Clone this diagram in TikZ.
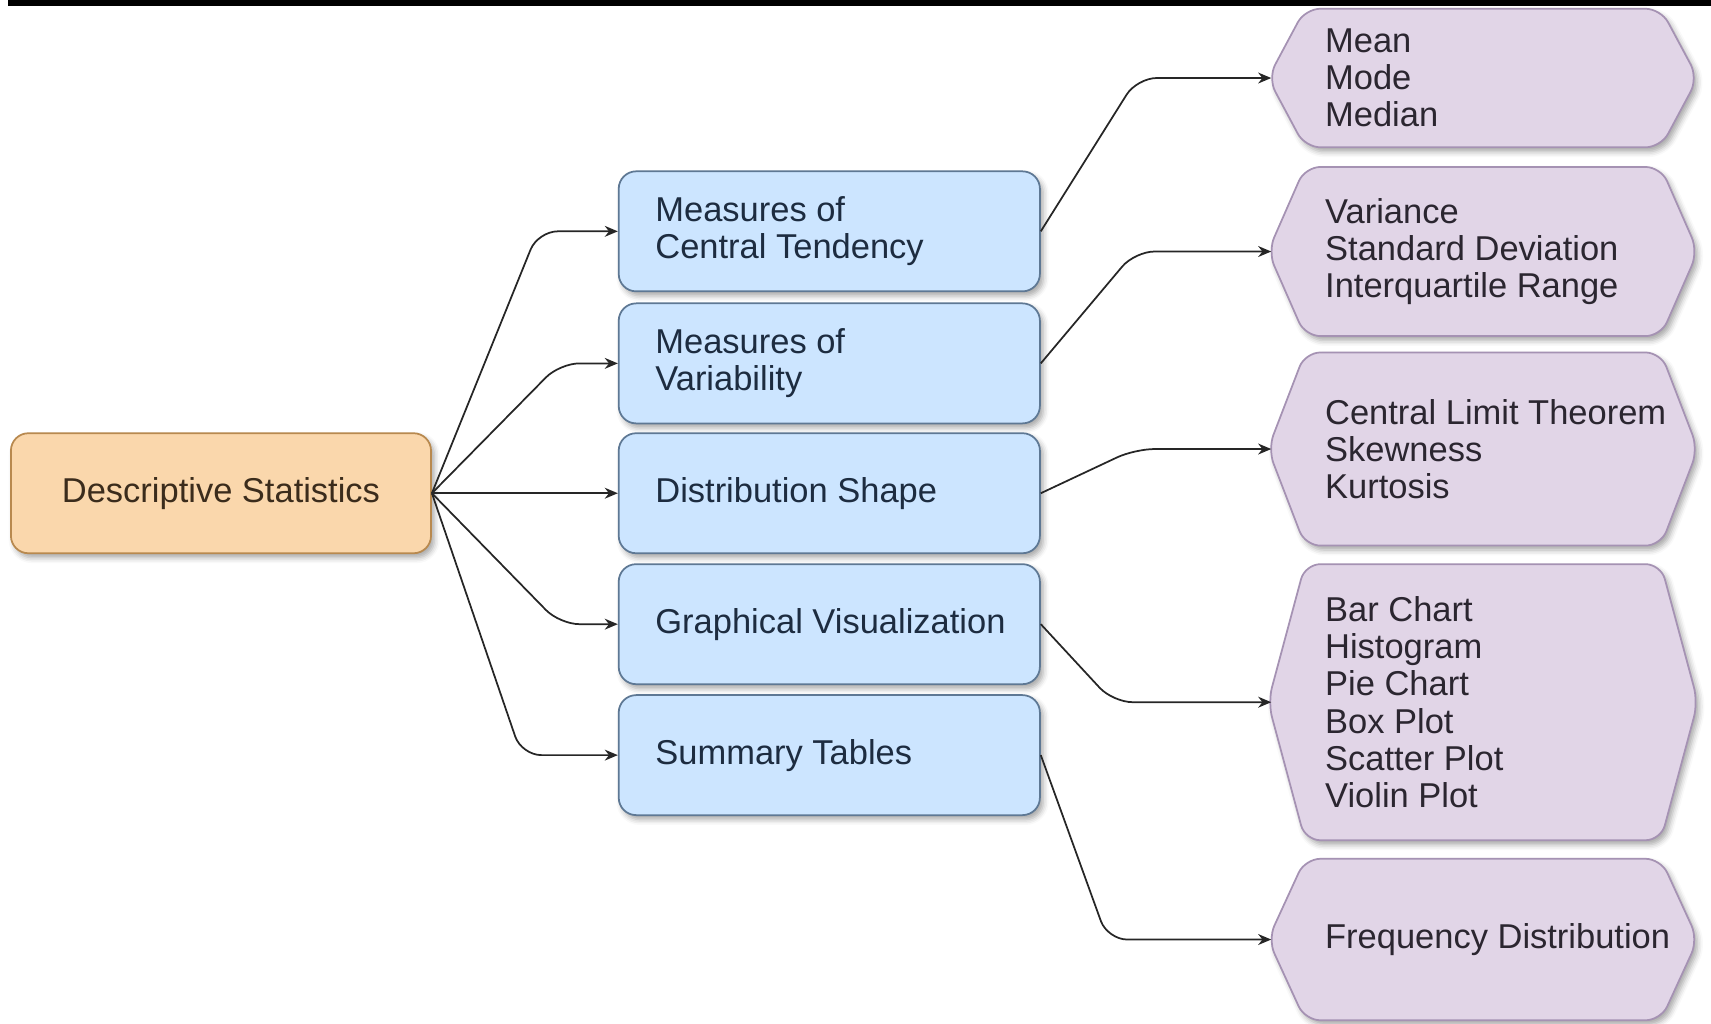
\documentclass[tikz,border=0pt]{standalone}
\usepackage{fontspec}
\setmainfont{Liberation Sans}
\usetikzlibrary{arrows.meta,shadows.blur}
\definecolor{orfill}{HTML}{FAD7AC}
\definecolor{ordraw}{HTML}{B8894F}
\definecolor{blfill}{HTML}{CCE5FF}
\definecolor{bldraw}{HTML}{5E7894}
\definecolor{pufill}{HTML}{E1D5E7}
\definecolor{pudraw}{HTML}{A592B3}
\definecolor{ortext}{HTML}{3B2C1C}
\definecolor{bltext}{HTML}{1D2C40}
\definecolor{putext}{HTML}{2B2630}
\newcommand{\hexbox}[4]{%
  \path[hexshape] (1162,#2) -- (1196,#2-#3) -- (1522,#2-#3) -- (1556,#2) -- (1522,#2+#3) -- (1196,#2+#3) -- cycle;
  \node[hextext] (#1) at (1214,#2) {#4};
  \coordinate (#1w) at (1165,#2);
}
\begin{document}
\begin{tikzpicture}[x=0.5pt,y=-0.5pt,
  shd/.style={blur shadow={shadow xshift=1.5pt,shadow yshift=-2pt,shadow blur radius=2.5pt,shadow opacity=35}},
  txt/.style={font=\fontsize{15.8}{17}\selectfont, inner sep=0pt, align=left},
  rootbox/.style={draw=ordraw, fill=orfill, line width=0.8pt, rounded corners=8pt, minimum width=192.5pt, minimum height=55pt, shd, txt, text=ortext, align=center},
  catbox/.style={draw=bldraw, fill=blfill, line width=0.8pt, rounded corners=8pt, minimum width=193pt, minimum height=55pt, shd},
  cattext/.style={txt, text=bltext, anchor=west},
  hexshape/.style={draw=pudraw, fill=pufill, line width=0.8pt, rounded corners=7pt, shd},
  hextext/.style={txt, text=putext, anchor=west},
  conn/.style={draw=black!85, line width=0.8pt, rounded corners=9pt, -{Stealth[length=6pt,width=5pt]}},
]
\useasboundingbox (0,0) rectangle (1568,938);
\fill[black] (7,0) rectangle (1568,5.5);

\node[rootbox] (root) at (202.5,452) {Descriptive Statistics};

\node[catbox] (c1) at (760,212) {};
\node[cattext] at ([xshift=17pt]c1.west) {Measures of\\Central Tendency};
\node[catbox] (c2) at (760,333) {};
\node[cattext] at ([xshift=17pt]c2.west) {Measures of\\Variability};
\node[catbox] (c3) at (760,452) {};
\node[cattext] at ([xshift=17pt]c3.west) {Distribution Shape};
\node[catbox] (c4) at (760,572) {};
\node[cattext] at ([xshift=17pt]c4.west) {Graphical Visualization};
\node[catbox] (c5) at (760,692) {};
\node[cattext] at ([xshift=17pt]c5.west) {Summary Tables};

\hexbox{p1}{71.5}{63.5}{Mean\\Mode\\Median}
\hexbox{p2}{230.5}{77.5}{Variance\\Standard Deviation\\Interquartile Range}
\hexbox{p3}{411.5}{88.5}{Central Limit Theorem\\Skewness\\Kurtosis}
\hexbox{p4}{643.5}{126.5}{Bar Chart\\Histogram\\Pie Chart\\Box Plot\\Scatter Plot\\Violin Plot}
\hexbox{p5}{861}{74}{Frequency Distribution}

\draw[conn] (root.east) -- (493,212) -- (c1.west);
\draw[conn] (root.east) -- (513,333) -- (c2.west);
\draw[conn] (root.east) -- (c3.west);
\draw[conn] (root.east) -- (513,572) -- (c4.west);
\draw[conn] (root.east) -- (478,692) -- (c5.west);

\draw[conn] (c1.east) -- (1042,71.5) -- (p1w);
\draw[conn] (c2.east) -- (1040,230.5) -- (p2w);
\draw[conn] (c3.east) -- (1040,411.5) -- (p3w);
\draw[conn] (c4.east) -- (1020,643.5) -- (p4w);
\draw[conn] (c5.east) -- (1015,861) -- (p5w);
\end{tikzpicture}
\end{document}
